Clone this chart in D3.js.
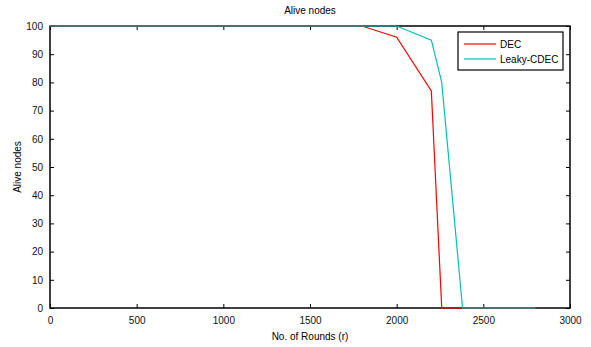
<!DOCTYPE html>
<html>
<head>
<meta charset="utf-8">
<script src="https://cdn.jsdelivr.net/npm/d3@7"></script>
<style>
  body { margin: 0; background: #fff; }
  svg { font-family: "Liberation Sans", Arial, sans-serif; }
</style>
</head>
<body>
<div id="chart"></div>
<script>
// series values
var decRounds = [0, 1800, 2000, 2200, 2260, 2800];
var decAlive = [100, 100, 96, 77, 0, 0];
var leakyRounds = [0, 2000, 2200, 2260, 2380, 2800];
var leakyAlive = [100, 100, 95, 80, 0, 0];
var seriesNames = ["DEC", "Leaky-CDEC"];
var seriesColors = ["#ff0000", "#00bfbf"];
var xTicks = [0, 500, 1000, 1500, 2000, 2500, 3000];
var yTicks = [0, 10, 20, 30, 40, 50, 60, 70, 80, 90, 100];

var W = 591, H = 347;
var margin = {top: 26, right: 21, bottom: 39, left: 50},
  width = W - margin.left - margin.right,
  height = H - margin.top - margin.bottom;

var x = d3.scaleLinear().domain([0, 3000]).range([0, width]);
var y = d3.scaleLinear().domain([0, 100]).range([height, 0]);

var svg = d3.select("#chart").append("svg")
  .attr("width", W)
  .attr("height", H);

var g = svg.append("g")
  .attr("transform", "translate(" + margin.left + "," + margin.top + ")");

var series = [
  {name: seriesNames[0], color: seriesColors[0], pts: decRounds.map(function(r, i) { return [r, decAlive[i]]; })},
  {name: seriesNames[1], color: seriesColors[1], pts: leakyRounds.map(function(r, i) { return [r, leakyAlive[i]]; })}
];

// axes, matlab style: ticks pointing inward on every side
function styleAxis(sel) {
  sel.select(".domain").remove();
  sel.selectAll("line").attr("stroke", "#000").attr("stroke-width", 1);
  sel.selectAll("text").attr("fill", "#111").style("font-size", "10px");
}

var fmt = d3.format("d");

g.append("g")
  .attr("transform", "translate(0," + height + ")")
  .call(d3.axisBottom(x).tickValues(xTicks).tickSize(-4).tickPadding(9).tickFormat(fmt))
  .call(styleAxis);

g.append("g")
  .call(d3.axisTop(x).tickValues(xTicks).tickSize(-4).tickFormat(""))
  .call(styleAxis);

g.append("g")
  .call(d3.axisLeft(y).tickValues(yTicks).tickSize(-4).tickPadding(7).tickFormat(fmt))
  .call(styleAxis);

g.append("g")
  .attr("transform", "translate(" + width + ",0)")
  .call(d3.axisRight(y).tickValues(yTicks).tickSize(-4).tickFormat(""))
  .call(styleAxis);

// box
g.append("rect")
  .attr("width", width)
  .attr("height", height)
  .attr("fill", "none")
  .attr("stroke", "#000")
  .attr("stroke-width", 1.5);

// lines, drawn over the box like matlab does
var line = d3.line()
  .x(function(d) { return x(d[0]); })
  .y(function(d) { return y(d[1]); });

g.selectAll(".series")
  .data(series)
  .enter()
  .append("path")
  .attr("class", "series")
  .attr("fill", "none")
  .attr("stroke", function(d) { return d.color; })
  .attr("stroke-width", 1.2)
  .attr("d", function(d) { return line(d.pts); });

// titles
svg.append("text")
  .attr("x", margin.left + width / 2)
  .attr("y", 14)
  .attr("text-anchor", "middle")
  .style("font-size", "10px")
  .text("Alive nodes");

svg.append("text")
  .attr("x", margin.left + width / 2)
  .attr("y", 340)
  .attr("text-anchor", "middle")
  .style("font-size", "10px")
  .text("No. of Rounds (r)");

svg.append("text")
  .attr("transform", "translate(21," + (margin.top + height / 2) + ") rotate(-90)")
  .attr("text-anchor", "middle")
  .style("font-size", "10px")
  .text("Alive nodes");

// legend
var lg = svg.append("g").attr("transform", "translate(458,32)");
lg.append("rect")
  .attr("width", 105)
  .attr("height", 38)
  .attr("fill", "#fff")
  .attr("stroke", "#000")
  .attr("stroke-width", 1.2);

var items = lg.selectAll(".item")
  .data(series)
  .enter()
  .append("g")
  .attr("transform", function(d, i) { return "translate(0," + (12 + i * 15) + ")"; });

items.append("line")
  .attr("x1", 6).attr("x2", 38)
  .attr("stroke", function(d) { return d.color; })
  .attr("stroke-width", 1.2);

items.append("text")
  .attr("x", 42)
  .attr("dy", "0.35em")
  .style("font-size", "10px")
  .text(function(d) { return d.name; });
</script>
</body>
</html>
